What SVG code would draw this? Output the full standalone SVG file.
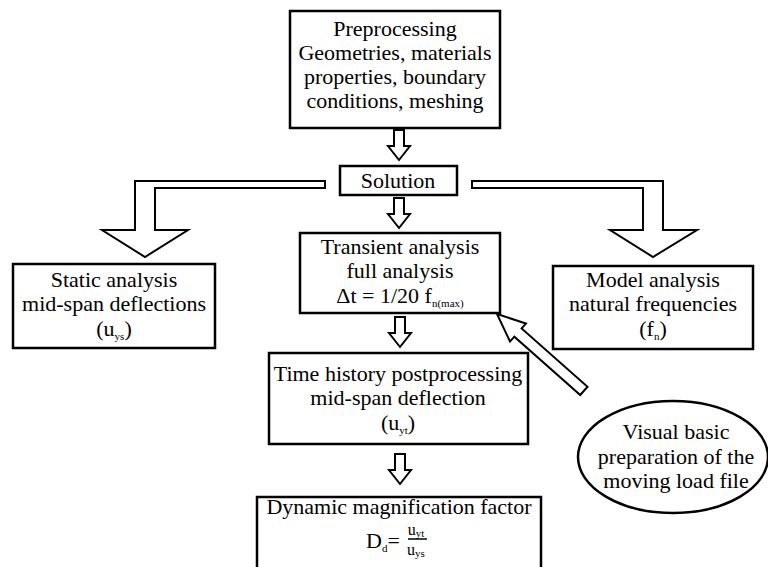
<svg xmlns="http://www.w3.org/2000/svg" width="768" height="567" viewBox="0 0 768 567">
<style>
.box{fill:#fff;stroke:#000;stroke-width:2.5}
.arr{fill:#fff;stroke:#000;stroke-width:2;stroke-linejoin:miter}
.t text{fill:#000;text-anchor:middle}
.sub{font-size:11px}
.fr{font-size:16px}
</style>
<rect width="768" height="567" fill="#fff"/>
<g id="connectors">
<polygon class="arr" points="394,130 404,130 404,146 410,146 399,160 388,146 394,146"/>
<polygon class="arr" points="394,198 404,198 404,214 410,214 399,228 388,214 394,214"/>
<polygon class="arr" points="395,317 405,317 405,333 411,333 400,347 389,333 395,333"/>
<polygon class="arr" points="395,454 405,454 405,470 411,470 400,484 389,470 395,470"/>
<polygon class="arr" points="325,181 135,181 135,230 102,230 145,257 188,230 155,230 155,188 325,188"/>
<polygon class="arr" points="472,181 663,181 663,230 697,230 653,257 610,230 643,230 643,188 472,188"/>
<polygon class="arr" transform="translate(497,314) rotate(41.5)" points="0,0 28,-12 28,-5.5 116,-5.5 116,5.5 28,5.5 28,12"/>
</g>
<g class="t" font-family="Times New Roman, Liberation Serif, DejaVu Serif, serif" font-size="22">
<g id="preprocessing">
<rect class="box" x="290" y="11" width="210" height="117"/>
<text x="395" y="36">Preprocessing</text>
<text x="395" y="60">Geometries, materials</text>
<text x="395" y="84">properties, boundary</text>
<text x="395" y="108">conditions, meshing</text>
</g>
<g id="solution">
<rect class="box" x="340" y="166" width="117" height="29"/>
<text x="398" y="188">Solution</text>
</g>
<g id="static">
<rect class="box" x="13" y="264" width="202" height="84"/>
<text x="114" y="287">Static analysis</text>
<text x="114" y="311">mid-span deflections</text>
<text x="114" y="336">(u<tspan class="sub" dy="4">ys</tspan><tspan dy="-4">)</tspan></text>
</g>
<g id="transient">
<rect class="box" x="300" y="233" width="200" height="80"/>
<text x="400" y="254">Transient analysis</text>
<text x="400" y="278">full analysis</text>
<text x="400" y="303">Δt = 1/20 f<tspan class="sub" dy="4">n(max)</tspan></text>
</g>
<g id="model">
<rect class="box" x="553" y="266" width="200" height="83"/>
<text x="653" y="287">Model analysis</text>
<text x="653" y="311">natural frequencies</text>
<text x="653" y="336">(f<tspan class="sub" dy="4">n</tspan><tspan dy="-4">)</tspan></text>
</g>
<g id="timehistory">
<rect class="box" x="269" y="353" width="259" height="91"/>
<text x="398" y="381">Time history postprocessing</text>
<text x="398" y="405">mid-span deflection</text>
<text x="398" y="430">(u<tspan class="sub" dy="4">yt</tspan><tspan dy="-4">)</tspan></text>
</g>
<g id="dynamic">
<rect class="box" x="257" y="497" width="284" height="80"/>
<text x="399" y="514">Dynamic magnification factor</text>
<text x="383" y="548">D<tspan class="sub" dy="4">d</tspan><tspan dy="-4">=</tspan></text>
<line x1="408" y1="539" x2="427" y2="539" stroke="#000" stroke-width="1.5"/>
<text class="fr" x="416" y="535">u<tspan class="sub" dy="2">yt</tspan></text>
<text class="fr" x="416" y="555">u<tspan class="sub" dy="2">ys</tspan></text>
</g>
<g id="visualbasic">
<ellipse cx="673" cy="457" rx="95" ry="56" fill="#fff" stroke="#000" stroke-width="2.5"/>
<text x="676" y="439">Visual basic</text>
<text x="676" y="464">preparation of the</text>
<text x="676" y="488">moving load file</text>
</g>
</g>
</svg>
